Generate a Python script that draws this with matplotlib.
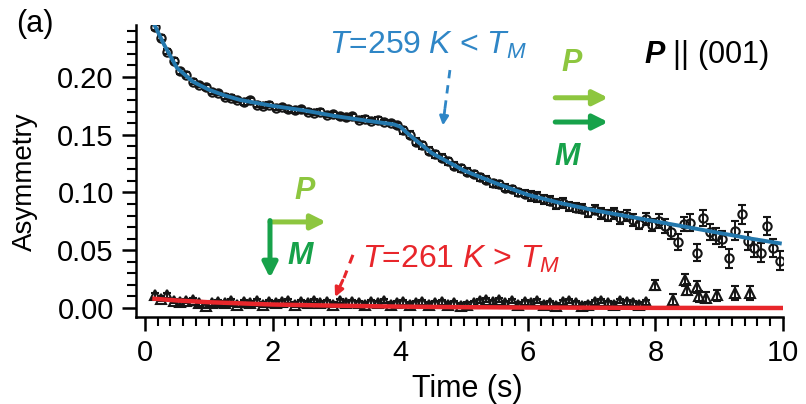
import numpy as np
import matplotlib.pyplot as plt

plt.rcParams['font.family'] = ['Liberation Sans', 'DejaVu Sans']
plt.rcParams['mathtext.fontset'] = 'custom'
plt.rcParams['mathtext.rm'] = 'Liberation Sans'
plt.rcParams['mathtext.it'] = 'Liberation Sans:italic'
plt.rcParams['mathtext.bf'] = 'Liberation Sans:bold:italic'

# T = 259 K (below T_M): data every 0.1 s
t_low = np.arange(0.15, 10.0, 0.1)
asym_low = [
    0.243, 0.234, 0.222, 0.214, 0.205, 0.202, 0.196, 0.193, 0.191, 0.187,
    0.186, 0.183, 0.182, 0.180, 0.178, 0.180, 0.176, 0.175, 0.176, 0.173,
    0.174, 0.172, 0.171, 0.172, 0.170, 0.169, 0.170, 0.167, 0.168, 0.166,
    0.165, 0.166, 0.163, 0.164, 0.162, 0.163, 0.161, 0.160, 0.158, 0.154,
    0.150, 0.144, 0.141, 0.136, 0.133, 0.130, 0.127, 0.123, 0.121, 0.118,
    0.116, 0.113, 0.111, 0.108, 0.107, 0.104, 0.103, 0.100, 0.099, 0.097,
    0.096, 0.094, 0.093, 0.090, 0.091, 0.088, 0.087, 0.086, 0.083, 0.085,
    0.082, 0.080, 0.082, 0.078, 0.080, 0.076, 0.073, 0.077, 0.072, 0.075,
    0.071, 0.066, 0.057, 0.073, 0.074, 0.048, 0.078, 0.066, 0.062, 0.060,
    0.043, 0.067, 0.081, 0.058, 0.052, 0.048, 0.071, 0.052, 0.041,
]
err_low = [
    0.002, 0.002, 0.002, 0.002, 0.002, 0.002, 0.002, 0.002, 0.002, 0.002,
    0.002, 0.002, 0.002, 0.002, 0.002, 0.002, 0.002, 0.002, 0.002, 0.002,
    0.002, 0.002, 0.002, 0.002, 0.002, 0.002, 0.002, 0.002, 0.002, 0.002,
    0.002, 0.002, 0.002, 0.002, 0.002, 0.002, 0.002, 0.002, 0.002, 0.003,
    0.003, 0.003, 0.003, 0.003, 0.003, 0.003, 0.003, 0.003, 0.003, 0.003,
    0.003, 0.003, 0.003, 0.003, 0.003, 0.003, 0.003, 0.003, 0.003, 0.004,
    0.004, 0.004, 0.004, 0.004, 0.004, 0.004, 0.004, 0.004, 0.004, 0.004,
    0.005, 0.005, 0.005, 0.005, 0.005, 0.005, 0.005, 0.005, 0.005, 0.006,
    0.006, 0.006, 0.007, 0.006, 0.007, 0.007, 0.007, 0.007, 0.007, 0.007,
    0.008, 0.008, 0.008, 0.008, 0.008, 0.008, 0.008, 0.008, 0.008,
]
fit_low_t = [0.15, 0.3, 0.5, 0.75, 1.0, 1.25, 1.5, 2.0, 2.5, 3.0, 3.5, 3.9,
             4.0, 4.1, 4.25, 4.5, 5.0, 5.5, 6.0, 6.5, 7.0, 7.5, 8.0, 8.5,
             9.0, 9.5, 9.95]
fit_low = [0.245, 0.228, 0.208, 0.196, 0.189, 0.184, 0.180, 0.175, 0.171,
           0.166, 0.162, 0.159, 0.157, 0.152, 0.145, 0.134, 0.119, 0.108,
           0.098, 0.091, 0.085, 0.080, 0.075, 0.070, 0.065, 0.060, 0.056]

# T = 261 K (above T_M)
t_high = list(np.arange(0.15, 7.9, 0.1)) + [8.0, 8.27, 8.46, 8.5, 8.66, 8.68,
                                            8.8, 8.97, 9.25, 9.48]
asym_high = [
    0.011, 0.008, 0.011, 0.006, 0.005, 0.006, 0.007, 0.004, 0.002, 0.004,
    0.005, 0.004, 0.006, 0.003, 0.005, 0.004, 0.006, 0.003, 0.005, 0.004,
    0.005, 0.006, 0.003, 0.005, 0.004, 0.006, 0.004, 0.005, 0.003, 0.006,
    0.004, 0.005, 0.004, 0.003, 0.005, 0.004, 0.006, 0.003, 0.004, 0.005,
    0.003, 0.004, 0.005, 0.003, 0.004, 0.005, 0.003, 0.004, 0.002, 0.003,
    0.004, 0.006, 0.007, 0.005, 0.007, 0.004, 0.006, 0.003, 0.005, 0.004,
    0.006, 0.003, 0.004, 0.002, 0.005, 0.006, 0.004, 0.002, 0.003, 0.005,
    0.006, 0.004, 0.003, 0.006, 0.005, 0.004, 0.003, 0.005,
    0.020, 0.007, 0.024, 0.016, 0.018, 0.010, 0.009, 0.011, 0.013, 0.013,
]
err_high = [0.002] * 78 + [0.004, 0.005, 0.005, 0.005, 0.005, 0.005, 0.005,
                           0.005, 0.006, 0.006]
fit_high_t = [0.15, 0.5, 1.0, 2.0, 3.0, 4.0, 5.0, 6.0, 8.0, 10.0]
fit_high = [0.008, 0.0065, 0.005, 0.003, 0.002, 0.0012, 0.0007, 0.0004,
            0.0001, 0.0]

blue = '#2f86c6'
fitblue = '#2378ad'
red = '#e8262b'
lgreen = '#8dc63f'
dgreen = '#17a24a'

fig = plt.figure(figsize=(8.06, 4.04), dpi=100)
ax = fig.add_axes([136 / 806, 1 - 317 / 404, 647 / 806, 292 / 404])

ax.errorbar(t_low, asym_low, yerr=err_low, fmt='o', ms=6, mfc='none',
            mec='#151515', mew=1.5, ecolor='#151515', elinewidth=1.4,
            capsize=3, capthick=1.4, zorder=2)
ax.plot(fit_low_t, fit_low, color=fitblue, lw=2.8, zorder=3)

ax.errorbar(t_high, asym_high, yerr=err_high, fmt='^', ms=7, mfc='none',
            mec='#151515', mew=1.5, ecolor='#151515', elinewidth=1.4,
            capsize=3, capthick=1.4, zorder=2)
ax.plot(fit_high_t, fit_high, color=red, lw=3.2, zorder=3)

ax.set_xlim(-0.14, 10.0)
ax.set_ylim(-0.0078, 0.245)
ax.set_xticks([0, 2, 4, 6, 8, 10])
ax.set_xticks(np.arange(0, 10.01, 0.2), minor=True)
ax.set_yticks([0.0, 0.05, 0.10, 0.15, 0.20])
ax.set_yticks(np.arange(0, 0.241, 0.01), minor=True)
ax.set_yticklabels(['0.00', '0.05', '0.10', '0.15', '0.20'])
ax.spines['top'].set_visible(False)
ax.spines['right'].set_visible(False)
for s in ['left', 'bottom']:
    ax.spines[s].set_linewidth(1.8)
ax.tick_params(which='major', length=10, width=1.8, labelsize=21, pad=6)
ax.tick_params(which='minor', length=6.5, width=1.5)

fig.text(25 / 806, 1 - 182 / 404, 'Asymmetry', rotation=90, fontsize=20,
         ha='center', va='center')
fig.text(467 / 806, 1 - 389 / 404, 'Time (s)', fontsize=22,
         ha='center', va='center')
fig.text(35 / 806, 1 - 24 / 404, '(a)', fontsize=22, ha='center', va='center')

# labels and arrows
ax.text(4.44, 0.227, r'$T$=259 $K$ < $T_M$', color=blue, fontsize=23,
        ha='center', va='center')
ax.plot([4.78, 4.70], [0.206, 0.172], color=blue, lw=2, ls=(0, (3, 2.5)))
ax.annotate('', xy=(4.67, 0.158), xytext=(4.70, 0.172),
            arrowprops=dict(arrowstyle='-|>', color=blue, lw=2,
                            mutation_scale=13, shrinkA=0, shrinkB=0))

ax.text(4.95, 0.042, r'$T$=261 $K$ > $T_M$', color=red, fontsize=23,
        ha='center', va='center')
ax.plot([3.26, 3.12], [0.046, 0.026], color=red, lw=2.2, ls=(0, (3, 2.5)))
ax.annotate('', xy=(2.98, 0.0095), xytext=(3.10, 0.024),
            arrowprops=dict(arrowstyle='-|>', color=red, lw=2.2,
                            mutation_scale=13, shrinkA=0, shrinkB=0))

ax.text(8.79, 0.219, r'$\mathbf{P}$ || (001)', fontsize=22,
        ha='center', va='center')

ax.text(6.69, 0.212, 'P', color=lgreen, fontsize=22, fontweight='bold',
        style='italic', ha='center', va='center')
ax.annotate('', xy=(7.26, 0.182), xytext=(6.43, 0.182),
            arrowprops=dict(arrowstyle='-|>', color=lgreen, lw=3.6,
                            mutation_scale=22, shrinkA=0, shrinkB=0))
ax.annotate('', xy=(7.26, 0.161), xytext=(6.43, 0.161),
            arrowprops=dict(arrowstyle='-|>', color=dgreen, lw=3.6,
                            mutation_scale=22, shrinkA=0, shrinkB=0))
ax.text(6.61, 0.131, 'M', color=dgreen, fontsize=22, fontweight='bold',
        style='italic', ha='center', va='center')

ax.text(2.51, 0.101, 'P', color=lgreen, fontsize=22, fontweight='bold',
        style='italic', ha='center', va='center')
ax.annotate('', xy=(2.84, 0.0745), xytext=(1.96, 0.0745),
            arrowprops=dict(arrowstyle='-|>', color=lgreen, lw=3.6,
                            mutation_scale=22, shrinkA=0, shrinkB=0))
ax.annotate('', xy=(1.96, 0.026), xytext=(1.96, 0.0757),
            arrowprops=dict(arrowstyle='-|>', color=dgreen, lw=3.6,
                            mutation_scale=22, shrinkA=0, shrinkB=0))
ax.text(2.43, 0.045, 'M', color=dgreen, fontsize=22, fontweight='bold',
        style='italic', ha='center', va='center')

fig.savefig('out.png', dpi=100)
